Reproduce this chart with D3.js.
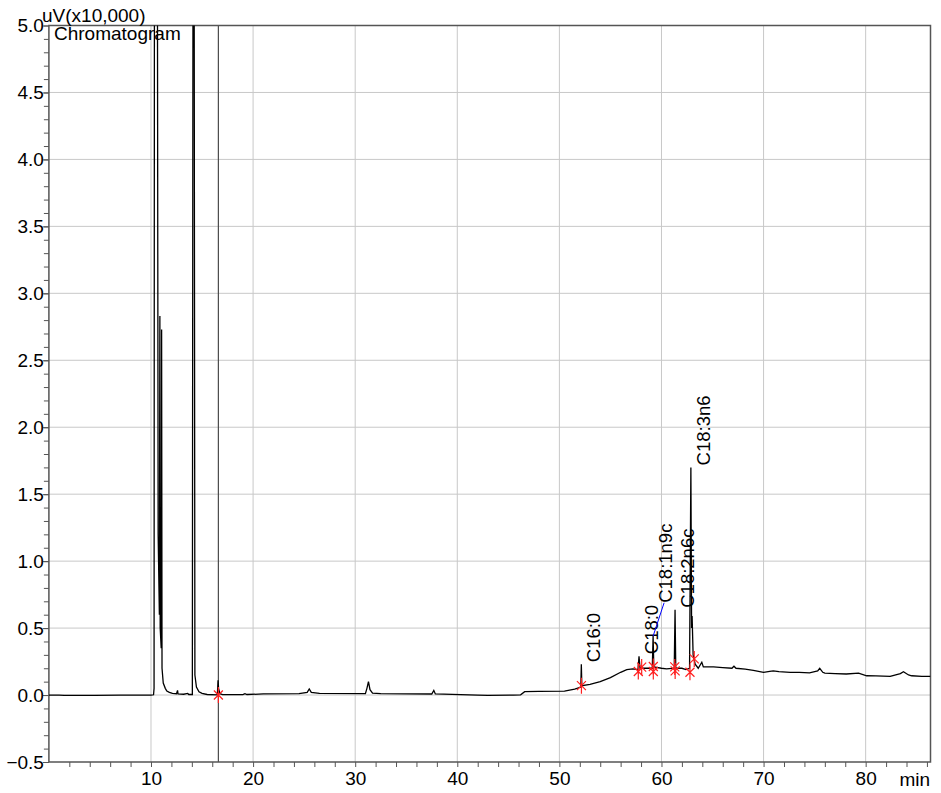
<!DOCTYPE html>
<html>
<head>
<meta charset="utf-8">
<script src="https://cdn.jsdelivr.net/npm/d3@7"></script>
<style>
	body { margin: 0; background: white; }
	text { font-family: "Liberation Sans", Arial, sans-serif; fill: black; }
</style>
</head>
<body>
<svg id="chart" width="941" height="793"></svg>
<script>
// retention time (min) and signal (uV x10,000)
let traceTime = [0, 1, 1.5, 3.5, 4.5, 7, 10, 10.25, 10.3, 10.34, 10.62, 10.7, 10.82, 10.87, 10.9, 11.0, 11.04, 11.08,
	11.2, 11.4, 11.55, 11.8, 12.1, 12.5, 12.6, 12.65, 13.2, 13.6, 13.7, 14.05, 14.12, 14.22, 14.3, 14.45, 14.7, 15.0,
	15.5, 16.5, 16.57, 16.62, 16.75, 17, 19, 19.2, 19.4, 21, 24.5, 25.3, 25.5, 25.7, 26.5, 31.0, 31.15, 31.3, 31.45,
	31.7, 32.5, 37.5, 37.7, 37.85, 42, 43, 45.5, 46.2, 46.6, 48, 50.5, 51.5, 52.1, 52.15, 52.2, 53, 54, 55, 56, 56.6,
	57.2, 57.7, 57.8, 57.9, 58.5, 59.1, 59.18, 59.25, 60, 60.5, 61.25, 61.33, 61.4, 62, 62.4, 62.75, 62.88, 62.95,
	63.0, 63.1, 63.3, 63.6, 63.95, 64.1, 64.5, 65.1, 66, 66.9, 67.1, 67.3, 68.2, 69, 70, 70.6, 70.95, 71.5, 72.6,
	73.5, 74.5, 75.3, 75.5, 75.8, 76, 77, 78.1, 79.3, 80.1, 81, 82.4, 83.4, 83.7, 84.2, 84.5, 85.5, 86.35]
let traceValue = [0, 0, -0.002, -0.003, -0.002, 0, 0, 0.002, 0.05, 6.0, 6.0, 1.2, 0.6, 2.83, 0.5, 0.35, 2.73, 0.2,
	0.09, 0.05, 0.03, 0.02, 0.012, 0.01, 0.035, 0.008, 0.006, 0.012, 0.004, 0.004, 6.0, 6.0, 0.15, 0.06, 0.025, 0.012,
	0.004, 0.002, 0.11, 0.05, 0.01, 0.003, 0.003, 0.01, 0.004, 0.008, 0.01, 0.02, 0.045, 0.02, 0.012, 0.01, 0.05, 0.1, 0.04,
	0.015, 0.01, 0.008, 0.035, 0.008, 0, -0.002, 0, 0.002, 0.025, 0.027, 0.03, 0.045, 0.06, 0.23, 0.07, 0.08, 0.1, 0.13,
	0.17, 0.19, 0.195, 0.19, 0.29, 0.2, 0.2, 0.2, 0.44, 0.21, 0.2, 0.195, 0.2, 0.637, 0.2, 0.2, 0.19, 0.2, 1.70, 0.5,
	0.59, 0.3, 0.23, 0.2, 0.245, 0.21, 0.21, 0.21, 0.205, 0.2, 0.215, 0.2, 0.194, 0.185, 0.17, 0.176, 0.18, 0.175, 0.169,
	0.17, 0.165, 0.18, 0.2, 0.17, 0.164, 0.16, 0.157, 0.164, 0.144, 0.143, 0.139, 0.16, 0.174, 0.15, 0.144, 0.14, 0.139]

// identified peaks
let peakNames = ['C16:0', 'C18:0', 'C18:1n9c', 'C18:2n6c', 'C18:3n6']
let peakTime = [52.15, 57.8, 59.18, 61.33, 62.88]
let peakHeight = [0.23, 0.29, 0.44, 0.637, 1.70]
let labelStart = [0.23, 0.29, 0.674, 0.637, 1.70]  // C18:1n9c label moved up, joined by a leader

// integration start / end marks
let markTime = [16.6, 52.16, 57.73, 58.06, 59.2, 59.2, 61.3, 61.34, 62.79, 63.21]
let markValue = [0.0, 0.07, 0.176, 0.209, 0.213, 0.176, 0.21, 0.18, 0.17, 0.27]

let eventTime = [16.6]

let xTicks = [10, 20, 30, 40, 50, 60, 70, 80]
let yTicks = [-0.5, 0.0, 0.5, 1.0, 1.5, 2.0, 2.5, 3.0, 3.5, 4.0, 4.5, 5.0]

let x0 = 48.9, x1 = 930.5, y0 = 25.5, y1 = 762
let svg = d3.select('#chart')

let x = d3.scaleLinear().domain([0, 86.35]).range([x0, x1])
let y = d3.scaleLinear().domain([-0.5, 5.0]).range([y1, y0])

svg.append('defs').append('clipPath').attr('id', 'plotClip')
	.append('rect').attr('x', x0).attr('y', y0).attr('width', x1 - x0).attr('height', y1 - y0)

// grid
let grid = svg.append('g').attr('id', 'grid')
grid.selectAll('line.gx').data(xTicks).enter().append('line')
	.attr('x1', d => x(d)).attr('x2', d => x(d))
	.attr('y1', y0).attr('y2', y1)
	.attr('stroke', '#c8c8c8').attr('stroke-width', 1)
grid.selectAll('line.gy').data(yTicks.slice(1, -1)).enter().append('line')
	.attr('x1', x0).attr('x2', x1)
	.attr('y1', d => y(d)).attr('y2', d => y(d))
	.attr('stroke', '#c8c8c8').attr('stroke-width', 1)

// event line
svg.append('g').selectAll('line').data(eventTime).enter().append('line')
	.attr('x1', d => x(d)).attr('x2', d => x(d))
	.attr('y1', y0).attr('y2', y1)
	.attr('stroke', '#4a4a4a').attr('stroke-width', 1.2)

// axes
let yMinor = d3.range(-5, 51).map(i => i / 10)
let xMinor = d3.range(2, 87, 2)

let yAxis = d3.axisLeft(y).tickValues(yMinor).tickSize(5).tickFormat('')
svg.append('g').attr('transform', `translate(${x0},0)`).call(yAxis)
	.call(g => g.selectAll('line').attr('stroke', '#555'))
	.call(g => g.select('.domain').remove())
let yAxisMajor = d3.axisLeft(y).tickValues(yTicks).tickSize(6).tickFormat(d3.format('.1f'))
svg.append('g').attr('transform', `translate(${x0},0)`).call(yAxisMajor)
	.call(g => g.select('.domain').remove())
	.call(g => g.selectAll('line').attr('stroke', '#555'))
	.call(g => g.selectAll('text').attr('x', -5).style('font-size', '19px').attr('fill', 'black')
		.style('font-family', '"Liberation Sans", Arial, sans-serif'))

let xAxis = d3.axisBottom(x).tickValues(xMinor).tickSize(5).tickFormat('')
svg.append('g').attr('transform', `translate(0,${y1})`).call(xAxis)
	.call(g => g.selectAll('line').attr('stroke', '#555'))
	.call(g => g.select('.domain').remove())
let xAxisMajor = d3.axisBottom(x).tickValues(xTicks).tickSize(0).tickPadding(10).tickFormat(d3.format('d'))
svg.append('g').attr('transform', `translate(0,${y1})`).call(xAxisMajor)
	.call(g => g.select('.domain').remove())
	.call(g => g.selectAll('text').style('font-size', '19px').attr('fill', 'black')
		.style('font-family', '"Liberation Sans", Arial, sans-serif'))

// frame
svg.append('rect')
	.attr('x', x0).attr('y', y0).attr('width', x1 - x0).attr('height', y1 - y0)
	.attr('fill', 'none').attr('stroke', '#555').attr('stroke-width', 1.5)

// trace
let points = traceTime.map((t, i) => [t, traceValue[i]])
let line = d3.line().x(d => x(d[0])).y(d => y(d[1]))
svg.append('g').attr('clip-path', 'url(#plotClip)')
	.append('path')
	.attr('d', line(points))
	.attr('fill', 'none').attr('stroke', 'black').attr('stroke-width', 1.3)

// peak marks
let marks = svg.append('g').attr('id', 'marks')
markTime.forEach((t, i) => {
	let mx = x(t), my = y(markValue[i])
	marks.append('path')
		.attr('d', `M${mx},${my - 8}L${mx},${my + 8}M${mx - 4.5},${my - 4.5}L${mx + 4.5},${my + 4.5}M${mx - 4.5},${my + 4.5}L${mx + 4.5},${my - 4.5}`)
		.attr('stroke', '#ff2020').attr('stroke-width', 1.2).attr('fill', 'none')
})

// peak labels
let labels = svg.append('g').attr('id', 'labels')
peakNames.forEach((name, i) => {
	let px = x(peakTime[i])
	let ly = y(labelStart[i]) - 2
	if (labelStart[i] != peakHeight[i]) {
		labels.append('line')
			.attr('x1', px).attr('y1', y(peakHeight[i]))
			.attr('x2', px + 11).attr('y2', ly)
			.attr('stroke', '#0000ff').attr('stroke-width', 1)
	}
	labels.append('text')
		.attr('transform', `translate(${px + 19},${ly}) rotate(-90)`)
		.style('font-size', '18.5px')
		.text(name)
})

// titles
svg.append('text').attr('x', 42).attr('y', 22).style('font-size', '19px').text('uV(x10,000)')
svg.append('text').attr('x', 54).attr('y', 40).style('font-size', '19px').text('Chromatogram')
svg.append('text').attr('x', 930).attr('y', 786).attr('text-anchor', 'end').style('font-size', '19px').text('min')
</script>
</body>
</html>
